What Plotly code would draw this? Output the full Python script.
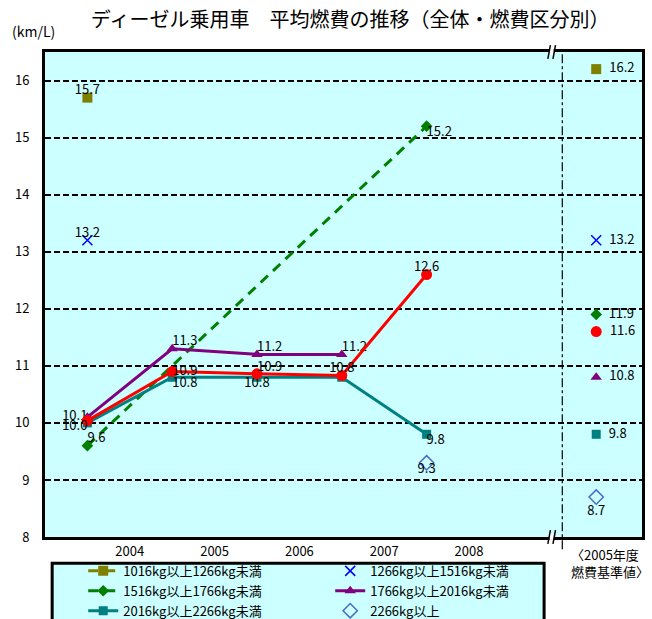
import plotly.graph_objects as go

# ---- data ----
years = ["2004", "2005", "2006", "2007", "2008"]

w1016_1266 = [15.7, None, None, None, None]
w1266_1516 = [13.2, None, None, None, None]
w1516_1766 = [9.6, None, None, None, 15.2]
w1766_2016 = [10.1, 11.3, 11.2, 11.2, None]
w2016_2266 = [10.0, 10.8, 10.8, 10.8, 9.8]
w2266_up = [None, None, None, None, 9.3]
diesel_all = [10.04, 10.9, 10.86, 10.83, 12.6]

# 2005 fuel economy standard values (right-hand column)
std_1016 = 16.2
std_1266 = 13.2
std_1516 = 11.9
std_1766 = 10.8
std_2016 = 9.8
std_2266 = 8.7
std_all = 11.6

FONT = "Noto Sans CJK JP"
BG = "#CCFFFF"

xs = list(range(len(years)))
std_x = len(years) + 1

# name, values, standard, color, symbol, size, dash, line width, label positions, std label position
series = [
    ("1016kg以上1266kg未満", w1016_1266, std_1016, "#808000", "square", 10, "10px,7px", 3,
     ["top center", None, None, None, None], "middle right"),
    ("1266kg以上1516kg未満", w1266_1516, std_1266, "#0000FF", "x-thin", 10, None, 0,
     ["top center", None, None, None, None], "middle right"),
    ("1516kg以上1766kg未満", w1516_1766, std_1516, "#008000", "diamond", 9, "10px,7px", 3,
     ["top right", None, None, None, "bottom right"], "middle right"),
    ("1766kg以上2016kg未満", w1766_2016, std_1766, "#800080", "triangle-up", 10, None, 3,
     ["middle left", "top right", "top right", "top right", None], "middle right"),
    ("2016kg以上2266kg未満", w2016_2266, std_2016, "#008080", "square", 9, None, 3,
     [None, "bottom right", "bottom center", None, "bottom right"], "middle right"),
    ("2266kg以上", w2266_up, std_2266, "#4A6CC8", "diamond-open", 11, None, 0,
     [None, None, None, None, "bottom center"], "bottom center"),
    ("ディーゼル乗用車全体", diesel_all, std_all, "#FF0000", "circle", 11, None, 3,
     ["bottom left", "middle right", "top right", "top center", "top center"], "middle right"),
]

fig = go.Figure()

for name, vals, std, color, sym, size, dash, lw, lpos, spos in series:
    px = [x for x, v in zip(xs, vals) if v is not None]
    py = [v for v in vals if v is not None]
    marker = dict(symbol=sym, size=size, color=color)
    if sym.endswith("open") or sym.startswith("x"):
        marker["line"] = dict(color=color, width=1.5)
    fig.add_trace(go.Scatter(
        x=px, y=py, name=name, legendgroup=name,
        mode="lines+markers" if lw else "markers",
        line=dict(color=color, width=lw or 1, dash=dash),
        marker=marker,
    ))
    # point labels
    tx = [x for x, v, p in zip(xs, vals, lpos) if v is not None and p]
    ty = [v for v, p in zip(vals, lpos) if v is not None and p]
    tp = [p for v, p in zip(vals, lpos) if v is not None and p]
    fig.add_trace(go.Scatter(
        x=tx, y=ty, mode="text", text=[f"{v:.1f}" for v in ty],
        textposition=tp, textfont=dict(family=FONT, size=13, color="#000"),
        showlegend=False, hoverinfo="skip", legendgroup=name,
    ))
    # standard value
    pad = "\u00a0\u00a0" if spos == "middle right" else ""
    fig.add_trace(go.Scatter(
        x=[std_x], y=[std], mode="markers+text", marker=marker,
        text=[pad + f"{std:.1f}"], textposition=spos,
        textfont=dict(family=FONT, size=13, color="#000"),
        showlegend=False, legendgroup=name,
    ))

# dash-dot separator before the standard column
fig.add_shape(type="line", xref="x", yref="paper", x0=5.6, x1=5.6, y0=-0.025, y1=1,
              line=dict(color="black", width=1.2, dash="dashdot"), layer="above")
# axis break marks on top and bottom borders
for yb in (0, 1):
    fig.add_shape(type="rect", xref="x", yref="paper", x0=5.45, x1=5.5,
                  y0=yb - 0.006, y1=yb + 0.006, line=dict(width=0), fillcolor="white", layer="above")
    for xb in (5.43, 5.49):
        fig.add_shape(type="line", xref="x", yref="paper", x0=xb, x1=xb + 0.03,
                      y0=yb - 0.014, y1=yb + 0.014, line=dict(color="black", width=1.5), layer="above")

# legend frame (runs off the bottom of the page like the original)
fig.add_shape(type="rect", xref="paper", yref="paper", x0=0.012, x1=0.836, y0=-0.054, y1=-0.25,
              fillcolor=BG, line=dict(color="black", width=3), layer="above")

fig.add_annotation(text="(km/L)", xref="paper", yref="paper", x=-0.02, y=1.043,
                   xanchor="center", yanchor="middle",
                   showarrow=False, font=dict(family=FONT, size=14, color="#000"))
fig.add_annotation(text="〈2005年度<br>燃費基準値〉", xref="x", yref="paper", x=5.68, y=-0.054,
                   xanchor="left", yanchor="middle", align="left", showarrow=False,
                   font=dict(family=FONT, size=13, color="#000"))

fig.update_layout(
    width=652, height=619,
    margin=dict(l=45, r=10, t=52, b=82, autoexpand=False),
    paper_bgcolor="white", plot_bgcolor=BG,
    font=dict(family=FONT, size=13, color="#000"),
    title=dict(text="ディーゼル乗用車　平均燃費の推移（全体・燃費区分別）",
               x=0.537, xref="container", xanchor="center",
               y=1 - 20 / 619, yanchor="middle", font=dict(family=FONT, size=20, color="#000")),
    legend=dict(orientation="h", x=0.064, y=-0.039, xanchor="left", yanchor="top",
                bgcolor="rgba(0,0,0,0)", borderwidth=0,
                entrywidth=202, font=dict(family=FONT, size=13, color="#000"),
                traceorder="normal"),
    showlegend=True,
)
fig.update_xaxes(range=[-0.5, 6.54], tickvals=[x + 0.5 for x in xs], ticktext=years,
                 showgrid=False, zeroline=False, showline=True, linecolor="black",
                 linewidth=3, mirror=True, ticks="", tickfont=dict(size=13))
fig.update_yaxes(range=[8, 16.5], dtick=1, tick0=8, showgrid=True, gridcolor="black",
                 gridwidth=1.5, griddash="6px,3px", zeroline=False, showline=True,
                 linecolor="black", linewidth=3, mirror=True, ticks="",
                 ticklabelstandoff=10, tickfont=dict(size=13))

fig.write_html("out.html", config={"displayModeBar": False},
               post_script="document.body.style.margin='0';")
